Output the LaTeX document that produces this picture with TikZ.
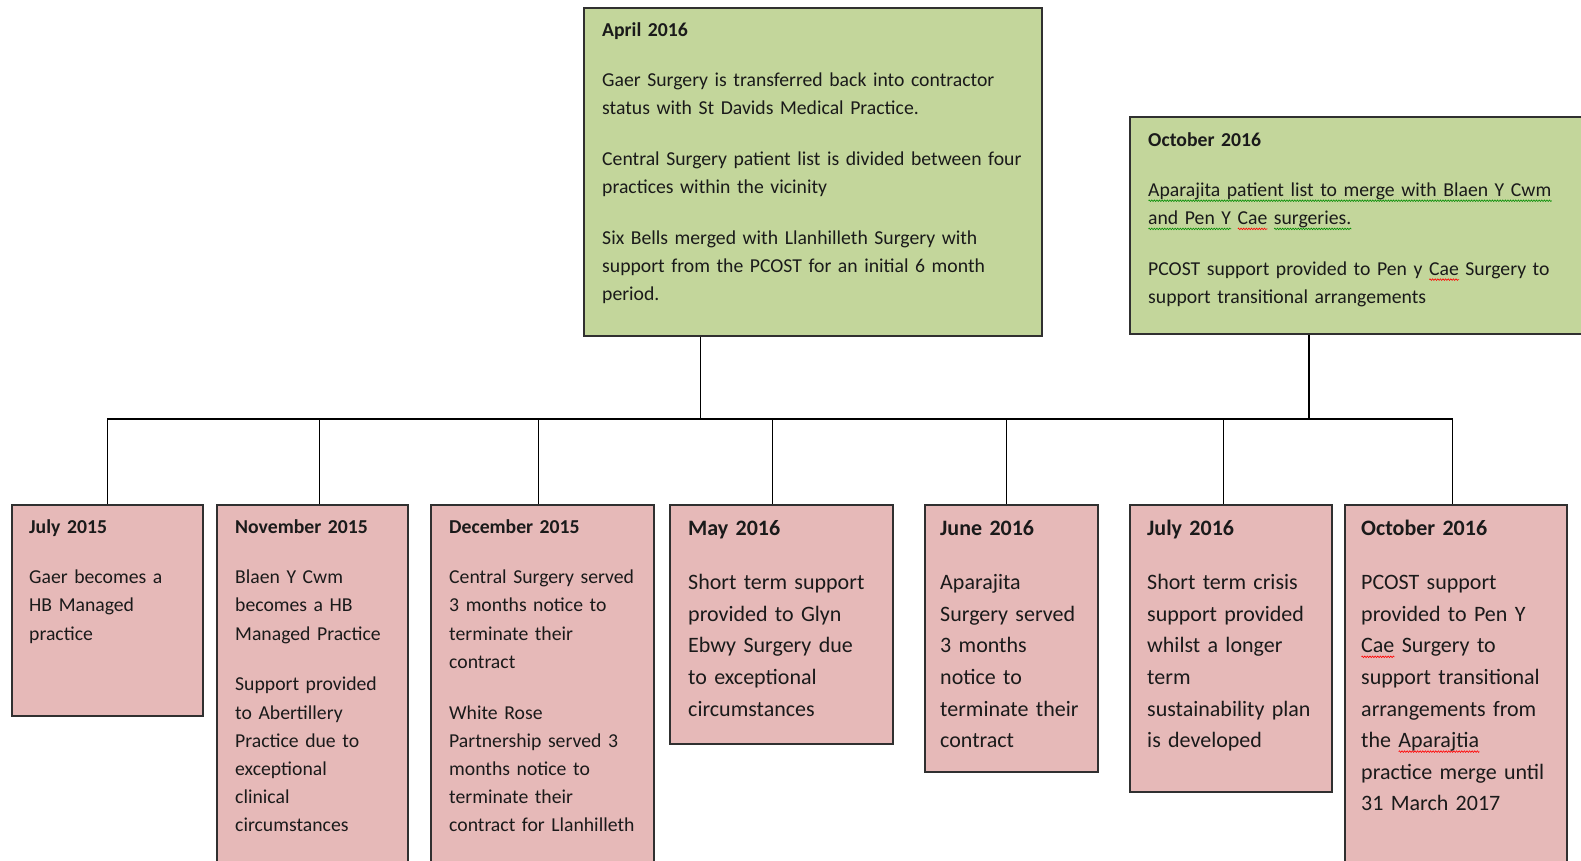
\documentclass[tikz,border=0pt]{standalone}
\usepackage{fontspec}
\setmainfont{Carlito}
\usetikzlibrary{decorations.pathmorphing}
\setlength{\parindent}{0pt}

\definecolor{boxgreen}{HTML}{C3D69B}
\definecolor{boxpink}{HTML}{E6B9B8}
\definecolor{boxline}{HTML}{303030}
\definecolor{txtcol}{HTML}{1A1A1A}

% spell-check squiggles
\newlength\wavelen
\newcommand\wavy[2]{\leavevmode\settowidth{\wavelen}{#2}\rlap{\smash{\raisebox{-4pt}{\tikz[baseline=0pt]\draw[#1, line width=0.6pt, decorate, decoration={zigzag, segment length=2.6pt, amplitude=0.8pt}] (0pt,0pt) -- (\wavelen,0pt);}}}#2}
\newcommand\greenwave[1]{\wavy{green!55!black}{#1}}
\newcommand\redwave[1]{\wavy{red}{#1}}

\newcommand\smallfnt{\fontsize{19.7}{28.2}\selectfont}
\newcommand\bigfnt{\fontsize{22}{31.6}\selectfont}

\tikzset{
  topbox/.style={draw=boxline, line width=1.6pt, fill=boxgreen, inner sep=0, anchor=north west},
  datebox/.style={draw=boxline, line width=1.6pt, fill=boxpink, inner sep=0, anchor=north west},
  boxtext/.style={anchor=base west, inner sep=0, align=left, text width=440pt, text=txtcol},
  link/.style={line width=1.3pt, black}
}

\begin{document}
\begin{tikzpicture}[x=1pt, y=-1pt]
  \useasboundingbox (0,0) rectangle (1581,860);
  \fill[white] (0,0) rectangle (1581,860);

  % upper boxes
  \node[topbox, minimum width=458pt, minimum height=328pt] (apr16) at (583,7) {};
  \node[topbox, minimum width=480pt, minimum height=217pt] (oct16top) at (1129,116) {};

  \node[boxtext, font=\smallfnt] (apr16txt) at ([shift={(19,29)}]apr16.north west)
    {\textbf{April 2016}\\[22.5pt]
     Gaer Surgery is transferred back into contractor\\
     status with St Davids Medical Practice.\\[22.5pt]
     Central Surgery patient list is divided between four\\
     practices within the vicinity\\[22.5pt]
     Six Bells merged with Llanhilleth Surgery with\\
     support from the PCOST for an initial 6 month\\
     period.};
  \node[boxtext, font=\smallfnt] (oct16toptxt) at ([shift={(19,30)}]oct16top.north west)
    {\textbf{October 2016}\\[22.5pt]
     \greenwave{Aparajita patient list to merge with Blaen Y Cwm}\\
     \greenwave{and Pen Y} \redwave{Cae} \greenwave{surgeries.}\\[22.5pt]
     PCOST support provided to Pen y \redwave{Cae} Surgery to\\
     support transitional arrangements};

  % lower boxes
  \node[datebox, minimum width=191pt, minimum height=211pt] (jul15) at (11,504) {};
  \node[datebox, minimum width=191pt, minimum height=380pt] (nov15) at (216,504) {};
  \node[datebox, minimum width=223pt, minimum height=380pt] (dec15) at (430,504) {};
  \node[datebox, minimum width=223pt, minimum height=239pt] (may16) at (669,504) {};
  \node[datebox, minimum width=173pt, minimum height=267pt] (jun16) at (924,504) {};
  \node[datebox, minimum width=202pt, minimum height=287pt] (jul16) at (1129,504) {};
  \node[datebox, minimum width=222pt, minimum height=380pt] (oct16) at (1344,504) {};

  \node[boxtext, font=\smallfnt] (jul15txt) at ([shift={(18,29)}]jul15.north west)
    {\textbf{July 2015}\\[22.5pt]
     Gaer becomes a\\
     HB Managed\\
     practice};
  \node[boxtext, font=\smallfnt] (nov15txt) at ([shift={(19,29)}]nov15.north west)
    {\textbf{November 2015}\\[22.5pt]
     Blaen Y Cwm\\
     becomes a HB\\
     Managed Practice\\[22.5pt]
     Support provided\\
     to Abertillery\\
     Practice due to\\
     exceptional\\
     clinical\\
     circumstances};
  \node[boxtext, font=\smallfnt] (dec15txt) at ([shift={(19,29)}]dec15.north west)
    {\textbf{December 2015}\\[22.5pt]
     Central Surgery served\\
     3 months notice to\\
     terminate their\\
     contract\\[22.5pt]
     White Rose\\
     Partnership served 3\\
     months notice to\\
     terminate their\\
     contract for Llanhilleth};
  \node[boxtext, font=\bigfnt] (may16txt) at ([shift={(19,31)}]may16.north west)
    {\textbf{May 2016}\\[23pt]
     Short term support\\
     provided to Glyn\\
     Ebwy Surgery due\\
     to exceptional\\
     circumstances};
  \node[boxtext, font=\bigfnt] (jun16txt) at ([shift={(16,31)}]jun16.north west)
    {\textbf{June 2016}\\[23pt]
     Aparajita\\
     Surgery served\\
     3 months\\
     notice to\\
     terminate their\\
     contract};
  \node[boxtext, font=\bigfnt] (jul16txt) at ([shift={(18,31)}]jul16.north west)
    {\textbf{July 2016}\\[23pt]
     Short term crisis\\
     support provided\\
     whilst a longer\\
     term\\
     sustainability plan\\
     is developed};
  \node[boxtext, font=\bigfnt] (oct16txt) at ([shift={(17,31)}]oct16.north west)
    {\textbf{October 2016}\\[23pt]
     PCOST support\\
     provided to Pen Y\\
     \redwave{Cae} Surgery to\\
     support transitional\\
     arrangements from\\
     the \redwave{Aparajtia}\\
     practice merge until\\
     31 March 2017};

  % connectors
  \coordinate (bus) at (0,419);
  \coordinate (upA) at ([xshift=-112pt]apr16.south);
  \coordinate (upB) at ([xshift=180pt]oct16top.south west);
  \coordinate (d1) at (jul15.north);
  \coordinate (d2) at ([xshift=7.5pt]nov15.north);
  \coordinate (d3) at ([xshift=-3.5pt]dec15.north);
  \coordinate (d4) at ([xshift=-8.5pt]may16.north);
  \coordinate (d5) at ([xshift=-4.5pt]jun16.north);
  \coordinate (d6) at ([xshift=-7pt]jul16.north);
  \coordinate (d7) at ([xshift=-3pt]oct16.north);

  \draw[link] (upA) -- (upA |- bus);
  \draw[link] (upB) -- (upB |- bus);
  \draw[link] (d1 |- bus) -- (d7 |- bus);
  \draw[link] (d1) -- (d1 |- bus);
  \draw[link] (d2) -- (d2 |- bus);
  \draw[link] (d3) -- (d3 |- bus);
  \draw[link] (d4) -- (d4 |- bus);
  \draw[link] (d5) -- (d5 |- bus);
  \draw[link] (d6) -- (d6 |- bus);
  \draw[link] (d7) -- (d7 |- bus);
\end{tikzpicture}
\end{document}
